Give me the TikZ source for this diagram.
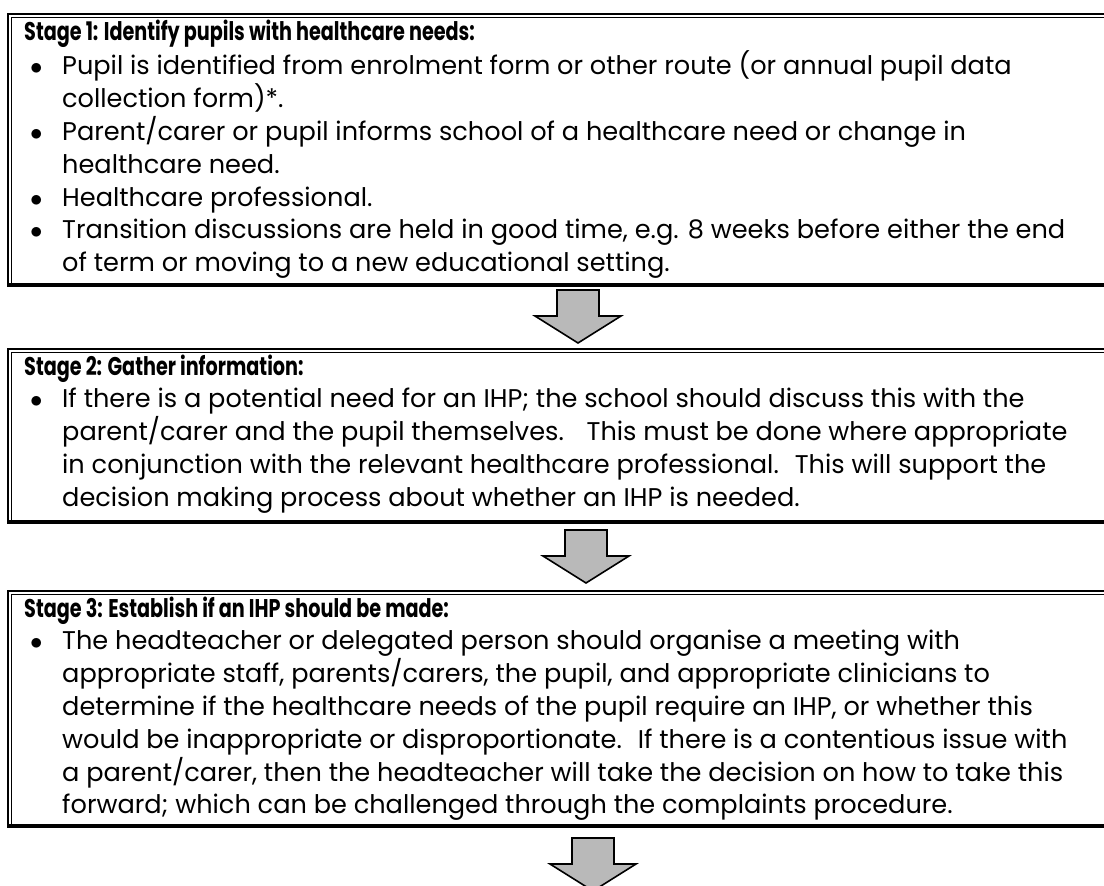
\documentclass[tikz,border=0pt]{standalone}
\usepackage{fontspec}
\setmainfont{Poppins}
\usetikzlibrary{positioning,calc}
\tikzset{x=1pt,y=1pt}
\tikzset{
    stagebox/.style={draw,line width=2pt,inner sep=0pt,anchor=north west,minimum width=1123pt},
    stagetext/.style={inner sep=0pt,align=left,font=\fontsize{25.6}{32.8}\selectfont},
    blockarrow/.style={draw,fill=gray!55,line width=1.6pt,line join=miter}
}
\newcommand{\stbul}{\makebox[38pt][l]{\hspace{6pt}$\bullet$}}
\newcommand{\stind}{\hspace*{38pt}}
\newcommand{\sthead}[1]{\strut\scalebox{0.75}[1]{\textbf{#1}}}

\begin{document}
\begin{tikzpicture}
    \useasboundingbox (0,0) rectangle (1104,-886);
    \clip (0,0) rectangle (1104,-886);
    \node[stagebox,minimum height=270pt] (s1) at (7,-13) {};
    \node[stagebox,minimum height=172pt] (s2) at (7,-348) {};
    \node[stagebox,minimum height=234pt] (s3) at (7,-590) {};
    \foreach \s in {s1,s2,s3} {
        \draw[line width=0.8pt] ([xshift=4pt]\s.south west) |- ([yshift=-4pt]\s.north east);
        \draw[line width=3.5pt] (\s.south west) -- (\s.south east);
    }
    \node[stagetext,below right=4pt and 17pt of s1.north west] (t1) {%
        \sthead{Stage 1: Identify pupils with healthcare needs:}\\
        \stbul Pupil is identified from enrolment form or other route (or annual pupil data\\
        \stind collection form)*.\\
        \stbul Parent/carer or pupil informs school of a healthcare need or change in\\
        \stind healthcare need.\\
        \stbul Healthcare professional.\\
        \stbul Transition discussions are held in good time, e.g. 8 weeks before either the end\\
        \stind of term or moving to a new educational setting.};
    \node[stagetext,below right=4pt and 17pt of s2.north west] (t2) {%
        \sthead{Stage 2: Gather information:}\\
        \stbul If there is a potential need for an IHP; the school should discuss this with the\\
        \stind parent/carer and the pupil themselves.~~ This must be done where appropriate\\
        \stind in conjunction with the relevant healthcare professional.~ This will support the\\
        \stind decision making process about whether an IHP is needed.};
    \node[stagetext,below right=4pt and 17pt of s3.north west] (t3) {%
        \sthead{Stage 3: Establish if an IHP should be made:}\\
        \stbul The headteacher or delegated person should organise a meeting with\\
        \stind appropriate staff, parents/carers, the pupil, and appropriate clinicians to\\
        \stind determine if the healthcare needs of the pupil require an IHP, or whether this\\
        \stind would be inappropriate or disproportionate.~ If there is a contentious issue with\\
        \stind a parent/carer, then the headteacher will take the decision on how to take this\\
        \stind forward; which can be challenged through the complaints procedure.};
    \coordinate (a1) at (578,-290);
    \coordinate (a2) at (586,-530);
    \coordinate (a3) at (593,-838);
    \foreach \a in {a1,a2,a3}
        \draw[blockarrow] (\a) ++(-21,0) -- ++(0,-26) -- ++(-22,0) -- ++(43,-27)
            -- ++(43,27) -- ++(-22,0) -- ++(0,26) -- cycle;
\end{tikzpicture}
\end{document}
